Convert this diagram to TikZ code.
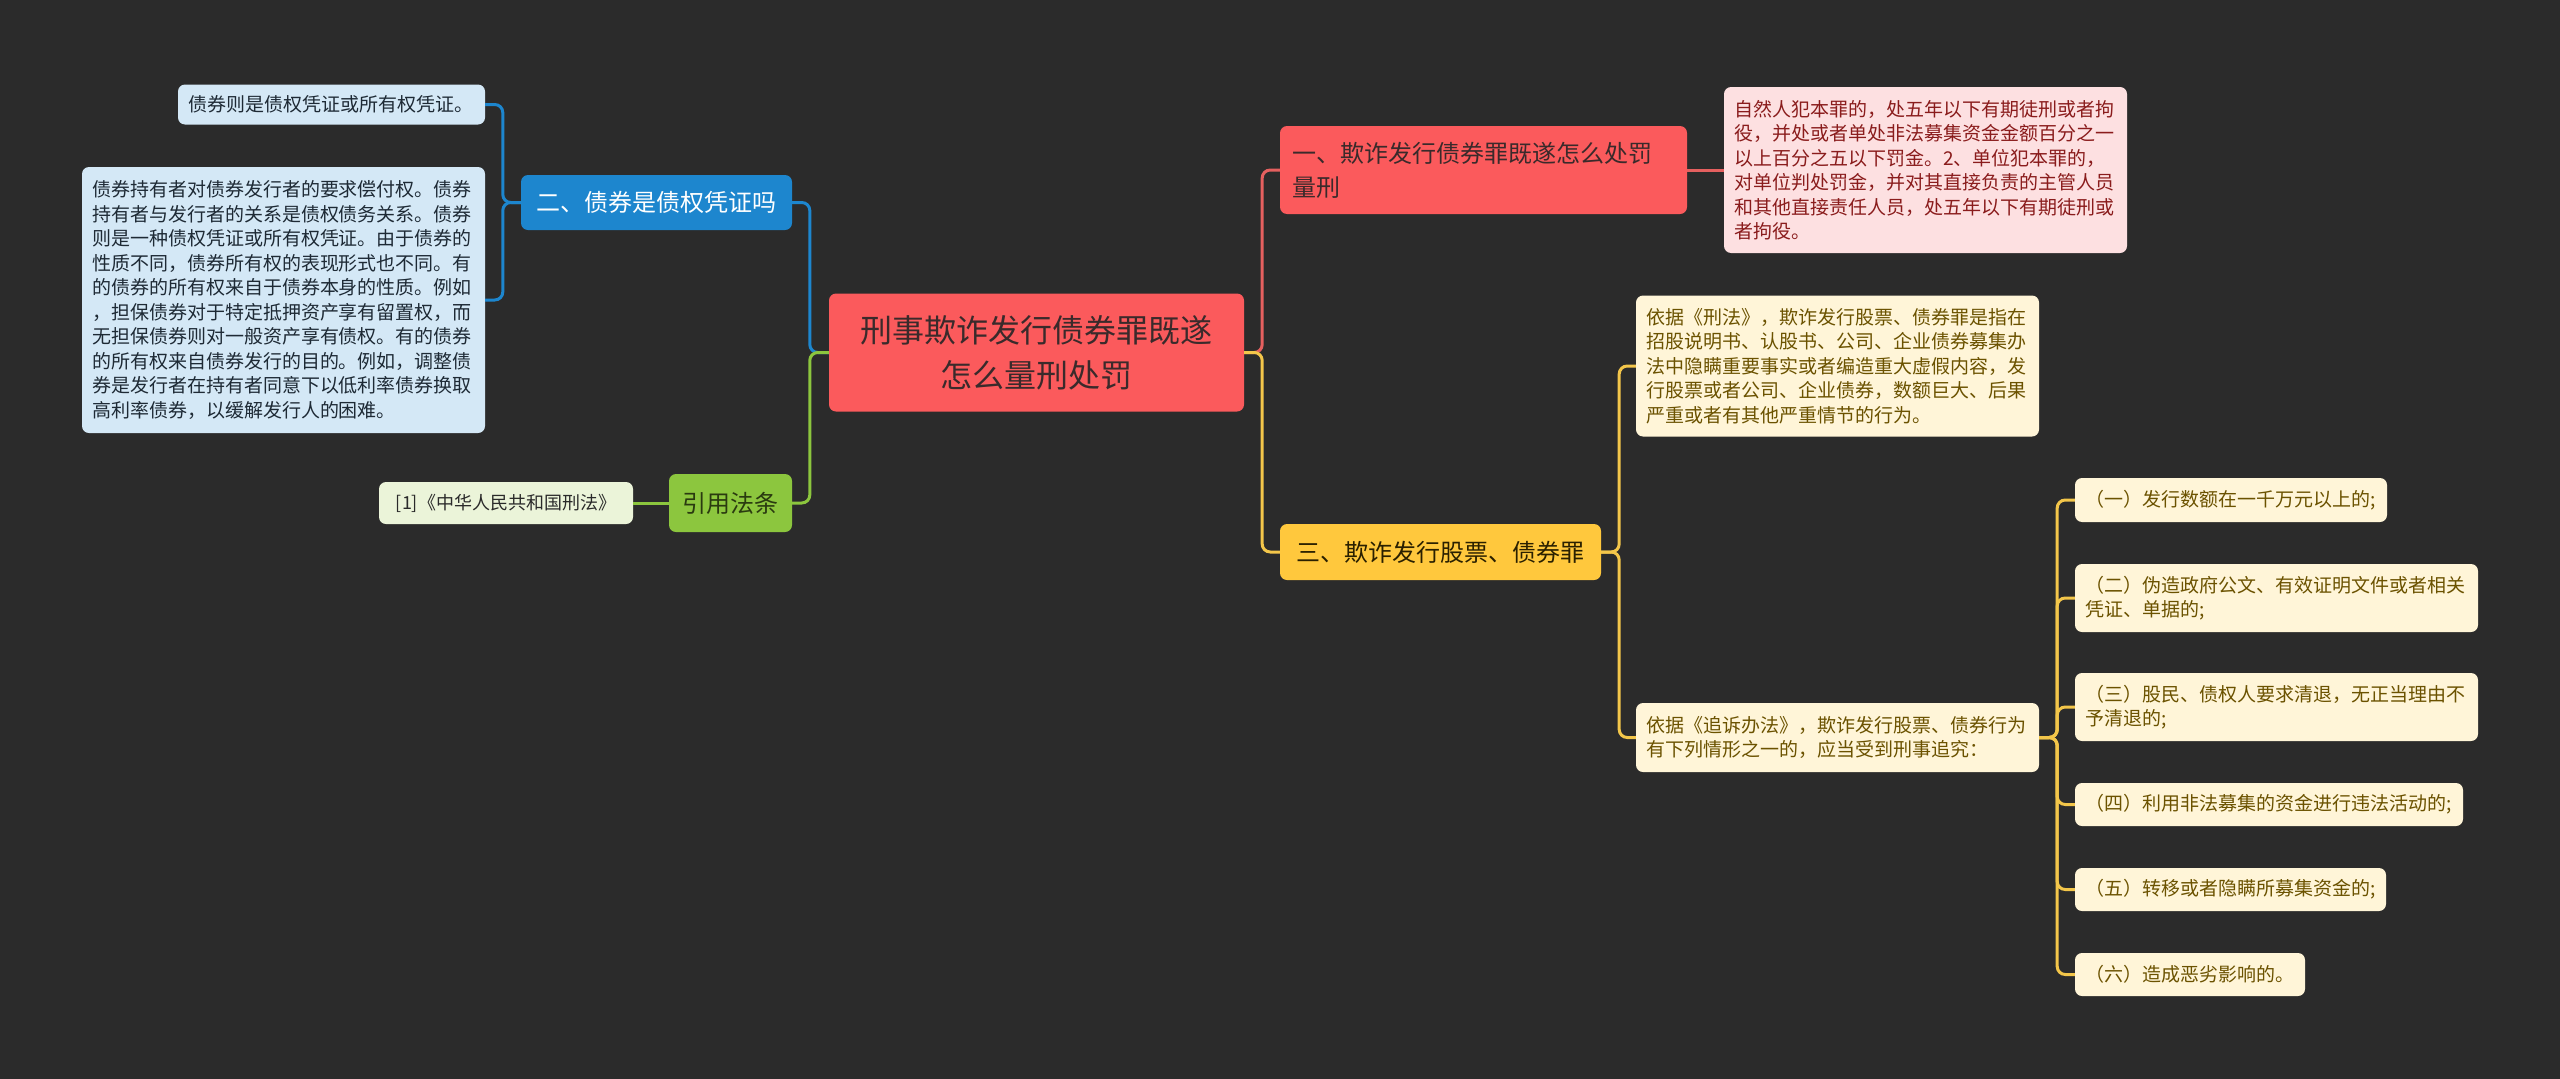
\documentclass[tikz,border=0pt]{standalone}
\usepackage{fontspec}
\setmainfont{Noto Sans CJK SC}
\definecolor{bg}{HTML}{2B2B2B}
\definecolor{rootfill}{HTML}{FB5A5C}
\definecolor{roottext}{HTML}{3A2A2B}
\definecolor{pinkfill}{HTML}{FDE0E1}
\definecolor{pinktext}{HTML}{8A1C1C}
\definecolor{bluefill}{HTML}{1D86CE}
\definecolor{lbluefill}{HTML}{D4E8F6}
\definecolor{lbluetext}{HTML}{1E2A35}
\definecolor{greenfill}{HTML}{8CC63E}
\definecolor{greentext}{HTML}{2A3A10}
\definecolor{lgreenfill}{HTML}{EBF4D9}
\definecolor{lgreentext}{HTML}{2A2A2A}
\definecolor{yellowfill}{HTML}{FFC83D}
\definecolor{yellowtext}{HTML}{2A2000}
\definecolor{lyellowfill}{HTML}{FFF5D8}
\definecolor{lyellowtext}{HTML}{6B5200}
\definecolor{lred}{HTML}{E5605F}
\definecolor{lyellow}{HTML}{F3C64A}
\tikzset{
  box/.style={rounded corners=7pt, inner ysep=0pt, align=left, anchor=center},
  small/.style={box, inner xsep=10pt, font=\fontsize{19}{24.5}\selectfont},
  big/.style={box, font=\fontsize{24}{34}\selectfont},
  rootbox/.style={box, fill=rootfill, text=roottext, align=center, inner xsep=10pt, font=\fontsize{32}{45}\selectfont},
  redbox/.style={big, fill=rootfill, text=roottext, inner xsep=12pt},
  pinkbox/.style={small, fill=pinkfill, text=pinktext},
  bluebox/.style={big, fill=bluefill, text=white, align=center, inner xsep=10pt},
  lbluebox/.style={small, fill=lbluefill, text=lbluetext},
  greenbox/.style={big, fill=greenfill, text=greentext, align=center, inner xsep=8pt},
  lgreenbox/.style={box, inner xsep=6pt, fill=lgreenfill, text=lgreentext, align=center, font=\fontsize{18}{22}\selectfont},
  yellowbox/.style={big, fill=yellowfill, text=yellowtext, align=center, inner xsep=10pt},
  lyellowbox/.style={small, fill=lyellowfill, text=lyellowtext},
  conn/.style={line width=3pt, rounded corners=8pt},
  cblue/.style={conn, draw=bluefill},
  cgreen/.style={conn, draw=greenfill},
  cred/.style={conn, draw=lred},
  cyellow/.style={conn, draw=lyellow},
}
\begin{document}
\begin{tikzpicture}[x=1pt,y=-1pt]
\fill[bg] (0,0) rectangle (2560,1079);
\useasboundingbox (0,0) rectangle (2560,1079);

% root
\node[rootbox, text width=395pt, minimum height=118pt] (root) at (1036.5,352.5) {刑事欺诈发行债券罪既遂\\怎么量刑处罚};

% left side
\node[bluebox, text width=251pt, minimum height=55pt] (blue) at (656.5,202.5) {二、债券是债权凭证吗};
\node[lbluebox, text width=287pt, minimum height=40pt] (a) at (331.5,104.5) {债券则是债权凭证或所有权凭证。};
\node[lbluebox, text width=383pt, minimum height=266pt] (b) at (283.5,300) {债券持有者对债券发行者的要求偿付权。债券\\持有者与发行者的关系是债权债务关系。债券\\则是一种债权凭证或所有权凭证。由于债券的\\性质不同，债券所有权的表现形式也不同。有\\的债券的所有权来自于债券本身的性质。例如\\，担保债券对于特定抵押资产享有留置权，而\\无担保债券则对一般资产享有债权。有的债券\\的所有权来自债券发行的目的。例如，调整债\\券是发行者在持有者同意下以低利率债券换取\\高利率债券，以缓解发行人的困难。};
\node[greenbox, text width=107pt, minimum height=58pt] (green) at (730.5,503) {引用法条};
\node[lgreenbox, text width=242pt, minimum height=42pt] (gc) at (506,503) {[1]《中华人民共和国刑法》};

% right side
\node[redbox, text width=383pt, minimum height=88pt] (red) at (1483.5,170) {一、欺诈发行债券罪既遂怎么处罚\\量刑};
\node[pinkbox, text width=383pt, minimum height=166pt] (pink) at (1925.5,170) {自然人犯本罪的，处五年以下有期徒刑或者拘\\役，并处或者单处非法募集资金金额百分之一\\以上百分之五以下罚金。2、单位犯本罪的，\\对单位判处罚金，并对其直接负责的主管人员\\和其他直接责任人员，处五年以下有期徒刑或\\者拘役。};
\node[yellowbox, text width=301pt, minimum height=56pt] (yellow) at (1440.5,552) {三、欺诈发行股票、债券罪};
\node[lyellowbox, text width=383pt, minimum height=141pt] (y1) at (1837.5,366) {依据《刑法》，欺诈发行股票、债券罪是指在\\招股说明书、认股书、公司、企业债券募集办\\法中隐瞒重要事实或者编造重大虚假内容，发\\行股票或者公司、企业债券，数额巨大、后果\\严重或者有其他严重情节的行为。};
\node[lyellowbox, text width=383pt, minimum height=69pt] (y2) at (1837.5,737.5) {依据《追诉办法》，欺诈发行股票、债券行为\\有下列情形之一的，应当受到刑事追究：};
\node[lyellowbox, text width=292pt, minimum height=44pt] (c1) at (2231,500) {（一）发行数额在一千万元以上的;};
\node[lyellowbox, text width=383pt, minimum height=68pt] (c2) at (2276.5,598) {（二）伪造政府公文、有效证明文件或者相关\\凭证、单据的;};
\node[lyellowbox, text width=383pt, minimum height=68pt] (c3) at (2276.5,707) {（三）股民、债权人要求清退，无正当理由不\\予清退的;};
\node[lyellowbox, text width=368pt, minimum height=43pt] (c4) at (2269,804.5) {（四）利用非法募集的资金进行违法活动的;};
\node[lyellowbox, text width=291pt, minimum height=43pt] (c5) at (2230.5,889.5) {（五）转移或者隐瞒所募集资金的;};
\node[lyellowbox, text width=210pt, minimum height=43pt] (c6) at (2190,974.5) {（六）造成恶劣影响的。};

% connectors
\draw[cblue] (root.west) -- ++(-19,0) |- (blue.east);
\draw[cgreen] (root.west) -- ++(-19,0) |- (green.east);
\draw[cblue] (blue.west) -- ++(-18,0) |- (a.east);
\draw[cblue] (blue.west) -- ++(-18,0) |- (b.east);
\draw[cgreen] (green.west) -- (gc.east);
\draw[cred] (root.east) -- ++(18,0) |- (red.west);
\draw[cyellow] (root.east) -- ++(18,0) |- (yellow.west);
\draw[cred] (red.east) -- (pink.west);
\draw[cyellow] (yellow.east) -- ++(18,0) |- (y1.west);
\draw[cyellow] (yellow.east) -- ++(18,0) |- (y2.west);
\foreach \c in {c1,c2,c3,c4,c5,c6}
  \draw[cyellow] (y2.east) -- ++(18,0) |- (\c.west);
\end{tikzpicture}
\end{document}
